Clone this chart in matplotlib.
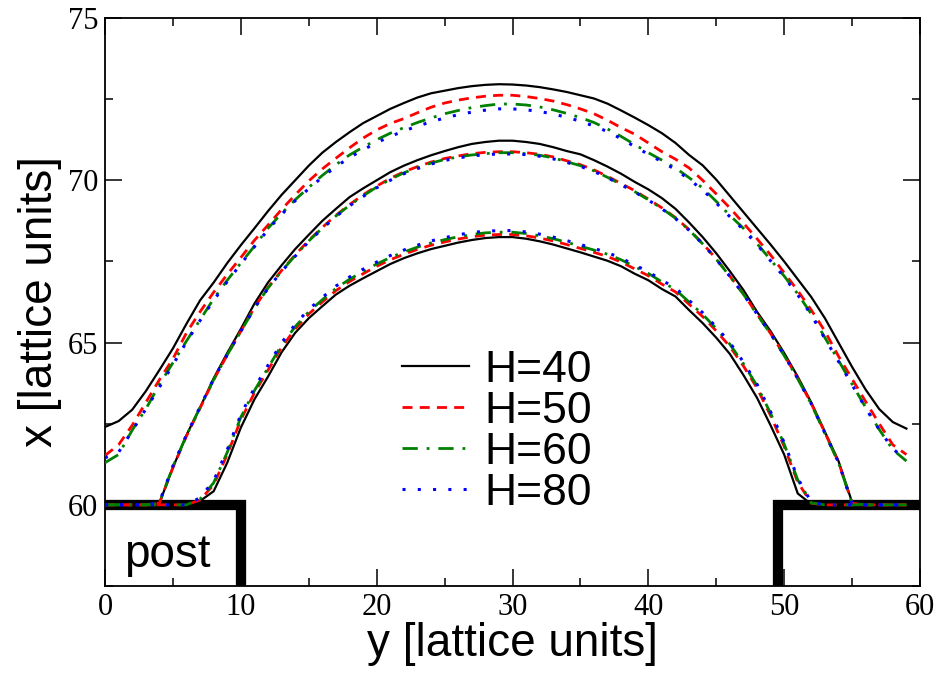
import matplotlib
matplotlib.use("Agg")
import matplotlib.pyplot as plt
import numpy as np

# lattice position along the post gap
y_pos = np.arange(0, 60)

# outer interface
outer_h40 = [62.40, 62.58, 62.93, 63.50, 64.15, 64.82, 65.58, 66.30, 66.85, 67.45,
             68.00, 68.52, 69.05, 69.55, 70.00, 70.45, 70.85, 71.18, 71.48, 71.76,
             71.98, 72.20, 72.38, 72.55, 72.68, 72.76, 72.84, 72.90, 72.94, 72.96,
             72.95, 72.92, 72.87, 72.80, 72.72, 72.62, 72.52, 72.36, 72.15, 71.93,
             71.70, 71.45, 71.15, 70.78, 70.46, 70.02, 69.52, 69.02, 68.52, 68.02,
             67.50, 66.95, 66.40, 65.75, 65.00, 64.25, 63.55, 62.95, 62.55, 62.35]
outer_h50 = [61.52, 61.85, 62.45, 63.15, 63.85, 64.50, 65.30, 65.95, 66.55, 67.10,
             67.62, 68.15, 68.62, 69.10, 69.55, 69.98, 70.35, 70.68, 71.00, 71.30,
             71.55, 71.75, 71.90, 72.08, 72.25, 72.38, 72.47, 72.54, 72.59, 72.62,
             72.62, 72.58, 72.52, 72.44, 72.33, 72.20, 72.05, 71.85, 71.62, 71.42,
             71.15, 70.88, 70.65, 70.38, 70.00, 69.58, 69.15, 68.68, 68.20, 67.70,
             67.15, 66.60, 66.00, 65.35, 64.58, 63.88, 63.18, 62.50, 61.85, 61.55]
outer_h60 = [61.30, 61.55, 62.30, 62.95, 63.70, 64.38, 65.05, 65.70, 66.35, 66.92,
             67.45, 67.97, 68.52, 68.98, 69.40, 69.78, 70.15, 70.48, 70.78, 71.02,
             71.25, 71.45, 71.62, 71.78, 71.92, 72.05, 72.15, 72.24, 72.30, 72.35,
             72.35, 72.32, 72.26, 72.17, 72.06, 71.93, 71.78, 71.58, 71.35, 71.10,
             70.85, 70.62, 70.38, 70.08, 69.76, 69.35, 68.92, 68.52, 68.05, 67.55,
             67.05, 66.50, 65.88, 65.15, 64.45, 63.72, 63.00, 62.32, 61.70, 61.35]
outer_h80 = [61.45, 61.62, 62.28, 62.95, 63.62, 64.32, 65.02, 65.68, 66.30, 66.88,
             67.42, 67.95, 68.48, 68.95, 69.37, 69.74, 70.10, 70.42, 70.70, 70.94,
             71.16, 71.35, 71.52, 71.67, 71.80, 71.92, 72.02, 72.10, 72.16, 72.20,
             72.20, 72.17, 72.12, 72.04, 71.94, 71.82, 71.67, 71.50, 71.28, 71.04,
             70.80, 70.57, 70.33, 70.03, 69.70, 69.30, 68.88, 68.48, 68.02, 67.52,
             67.02, 66.47, 65.85, 65.12, 64.42, 63.70, 62.98, 62.32, 61.72, 61.40]

# middle interface
middle_h40 = [60.00, 60.00, 60.00, 60.00, 60.05, 61.15, 62.15, 63.00, 63.90, 64.68,
              65.42, 66.20, 66.85, 67.38, 67.88, 68.32, 68.75, 69.12, 69.48, 69.75,
              70.00, 70.25, 70.45, 70.62, 70.77, 70.90, 71.02, 71.12, 71.18, 71.22,
              71.22, 71.18, 71.12, 71.02, 70.90, 70.80, 70.62, 70.42, 70.20, 69.95,
              69.72, 69.45, 69.12, 68.70, 68.25, 67.75, 67.20, 66.62, 65.95, 65.35,
              64.68, 63.95, 63.15, 62.25, 61.35, 60.08, 60.00, 60.00, 60.00, 60.00]
middle_h50 = [60.00, 60.00, 60.00, 60.00, 60.05, 61.15, 62.12, 62.98, 63.85, 64.62,
              65.35, 66.08, 66.70, 67.22, 67.70, 68.15, 68.55, 68.92, 69.25, 69.55,
              69.82, 70.06, 70.26, 70.42, 70.56, 70.67, 70.75, 70.82, 70.86, 70.88,
              70.88, 70.85, 70.80, 70.72, 70.60, 70.48, 70.32, 70.12, 69.90, 69.68,
              69.42, 69.15, 68.85, 68.48, 68.05, 67.58, 67.05, 66.50, 65.88, 65.28,
              64.62, 63.90, 63.12, 62.22, 61.32, 60.05, 60.00, 60.00, 60.00, 60.00]
middle_h60 = [60.00, 60.00, 60.00, 60.00, 60.05, 61.18, 62.14, 63.00, 63.86, 64.62,
              65.34, 66.06, 66.68, 67.20, 67.68, 68.13, 68.53, 68.90, 69.23, 69.52,
              69.79, 70.03, 70.23, 70.39, 70.53, 70.64, 70.72, 70.78, 70.82, 70.85,
              70.85, 70.82, 70.77, 70.69, 70.57, 70.45, 70.29, 70.09, 69.87, 69.65,
              69.40, 69.13, 68.83, 68.47, 68.04, 67.57, 67.04, 66.49, 65.87, 65.27,
              64.60, 63.88, 63.10, 62.20, 61.30, 60.05, 60.00, 60.00, 60.00, 60.00]
middle_h80 = [60.00, 60.00, 60.00, 60.00, 60.08, 61.20, 62.16, 63.02, 63.88, 64.63,
              65.35, 66.06, 66.67, 67.19, 67.66, 68.11, 68.51, 68.88, 69.21, 69.50,
              69.77, 70.00, 70.20, 70.36, 70.50, 70.61, 70.69, 70.75, 70.79, 70.81,
              70.81, 70.79, 70.74, 70.66, 70.55, 70.43, 70.27, 70.08, 69.86, 69.64,
              69.39, 69.12, 68.82, 68.46, 68.04, 67.57, 67.04, 66.49, 65.88, 65.28,
              64.61, 63.89, 63.11, 62.21, 61.31, 60.05, 60.00, 60.00, 60.00, 60.00]

# inner interface
inner_h40 = [60.00, 60.00, 60.00, 60.00, 60.00, 60.00, 60.00, 60.12, 60.42, 61.30,
             62.38, 63.25, 63.95, 64.70, 65.30, 65.75, 66.12, 66.48, 66.75, 66.98,
             67.20, 67.42, 67.60, 67.75, 67.88, 67.98, 68.08, 68.16, 68.22, 68.25,
             68.25, 68.20, 68.12, 68.02, 67.90, 67.78, 67.65, 67.52, 67.35, 67.12,
             66.92, 66.65, 66.42, 66.00, 65.60, 65.15, 64.65, 64.00, 63.30, 62.45,
             61.55, 60.35, 60.02, 60.00, 60.00, 60.00, 60.00, 60.00, 60.00, 60.00]
inner_h50 = [60.00, 60.00, 60.00, 60.00, 60.00, 60.00, 60.00, 60.15, 60.62, 61.55,
             62.62, 63.45, 64.15, 64.85, 65.42, 65.88, 66.25, 66.60, 66.88, 67.12,
             67.35, 67.55, 67.72, 67.87, 68.00, 68.10, 68.19, 68.26, 68.31, 68.33,
             68.33, 68.29, 68.22, 68.13, 68.02, 67.90, 67.78, 67.65, 67.48, 67.27,
             67.06, 66.80, 66.56, 66.18, 65.80, 65.36, 64.88, 64.28, 63.60, 62.75,
             61.80, 60.70, 60.05, 60.00, 60.00, 60.00, 60.00, 60.00, 60.00, 60.00]
inner_h60 = [60.00, 60.00, 60.00, 60.00, 60.00, 60.00, 60.00, 60.18, 60.68, 61.62,
             62.70, 63.52, 64.22, 64.92, 65.49, 65.95, 66.32, 66.67, 66.95, 67.19,
             67.42, 67.62, 67.79, 67.94, 68.07, 68.17, 68.26, 68.33, 68.38, 68.40,
             68.40, 68.36, 68.29, 68.20, 68.09, 67.97, 67.85, 67.72, 67.55, 67.34,
             67.13, 66.87, 66.63, 66.25, 65.87, 65.43, 64.95, 64.35, 63.67, 62.82,
             61.87, 60.77, 60.06, 60.00, 60.00, 60.00, 60.00, 60.00, 60.00, 60.00]
inner_h80 = [60.00, 60.00, 60.00, 60.00, 60.00, 60.00, 60.00, 60.22, 60.74, 61.70,
             62.78, 63.60, 64.30, 64.99, 65.56, 66.02, 66.39, 66.74, 67.02, 67.26,
             67.48, 67.68, 67.85, 68.00, 68.13, 68.23, 68.32, 68.39, 68.43, 68.45,
             68.45, 68.41, 68.34, 68.25, 68.14, 68.02, 67.90, 67.77, 67.60, 67.39,
             67.18, 66.92, 66.68, 66.30, 65.92, 65.48, 65.00, 64.40, 63.72, 62.87,
             61.92, 60.82, 60.08, 60.00, 60.00, 60.00, 60.00, 60.00, 60.00, 60.00]

labels = ["H=40", "H=50", "H=60", "H=80"]
colors = ["black", "red", "green", "blue"]
styles = ["-", (0, (3.6, 2.6)), (0, (5.5, 3.2, 1, 3.2)), (0, (1, 4))]
widths = [1.6, 2.0, 2.0, 2.2]

# post outline (wall at x=60)
post_left_y = [0, 10.0, 10.0]
post_left_x = [60, 60, 57.0]
post_right_y = [60, 49.55, 49.55]
post_right_x = [60, 60, 57.0]

sans = "Liberation Sans"
serif = "Liberation Serif"

fig = plt.figure(figsize=(9.43, 6.73), dpi=100)
ax = fig.add_axes([105 / 943, 1 - 586 / 673, 815 / 943, 568 / 673])

ax.plot(post_left_y, post_left_x, color="black", lw=7.4, solid_joinstyle="miter",
        solid_capstyle="butt", zorder=1)
ax.plot(post_right_y, post_right_x, color="black", lw=7.4, solid_joinstyle="miter",
        solid_capstyle="butt", zorder=1)

families = [[outer_h40, outer_h50, outer_h60, outer_h80],
            [middle_h40, middle_h50, middle_h60, middle_h80],
            [inner_h40, inner_h50, inner_h60, inner_h80]]
for fam in families:
    for i, vals in enumerate(fam):
        ax.plot(y_pos, vals, color=colors[i], linestyle=styles[i], lw=widths[i],
                label=labels[i] if fam is families[0] else None, zorder=2 + i)

ax.text(4.6, 58.45, "post", fontsize=33, family=sans, ha="center", va="center")

ax.set_xlim(0, 60)
ax.set_ylim(57.5, 75)
ax.set_xticks(np.arange(0, 61, 10))
ax.set_xticks(np.arange(5, 60, 10), minor=True)
ax.set_yticks([60, 65, 70, 75])
ax.set_yticks([57.5, 62.5, 67.5, 72.5], minor=True)
ax.tick_params(which="both", direction="in", top=True, right=True, width=1.1)
ax.tick_params(which="major", length=12, labelsize=22, pad=5)
ax.tick_params(which="minor", length=6)
for lab in ax.get_xticklabels() + ax.get_yticklabels():
    lab.set_family(serif)
for s in ax.spines.values():
    s.set_linewidth(1.3)

ax.set_xlabel("y [lattice units]", fontsize=33, family=sans, labelpad=0)
ax.set_ylabel("x [lattice units]", fontsize=33, family=sans, labelpad=4)

leg = ax.legend(loc="upper left", bbox_to_anchor=(0.337, 0.455), frameon=False,
                prop={"family": sans, "size": 32}, handlelength=1.5,
                handletextpad=0.35, labelspacing=0.0, borderpad=0)

fig.savefig("out.png", dpi=100)
